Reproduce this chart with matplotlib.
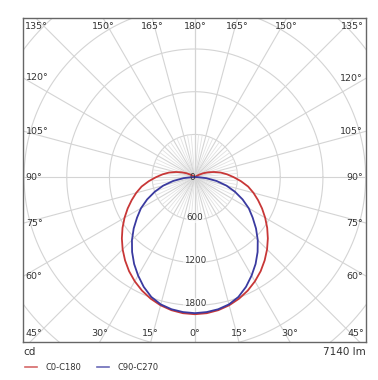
import numpy as np
import matplotlib
matplotlib.use("Agg")
import matplotlib.pyplot as plt

# ---- data ----
gamma = [0, 5, 10, 15, 20, 25, 30, 35, 40, 45, 50, 55, 60, 65, 70, 75, 80, 85, 90,
         95, 100, 105, 110, 115, 120, 125, 130, 135, 140, 145, 150, 155, 160, 165, 170, 175, 180]
c0_c180 = [1925, 1918, 1897, 1863, 1816, 1758, 1689, 1612, 1526, 1435, 1339, 1241, 1141, 1042,
           945, 853, 760, 650, 545, 455, 370, 280, 200, 130, 70, 30, 10, 0, 0, 0, 0, 0, 0, 0, 0, 0, 0]
c90_c270 = [1910, 1902, 1884, 1850, 1790, 1700, 1595, 1488, 1372, 1250, 1122, 992, 875, 740,
            600, 460, 310, 160, 40, 0, 0, 0, 0, 0, 0, 0, 0, 0, 0, 0, 0, 0, 0, 0, 0, 0, 0]
series_names = ["C0-C180", "C90-C270"]
series_colors = ["#c83737", "#3a3aa0"]
ring_values = [600, 1200, 1800, 2400, 3000, 3600]
ring_labels = ["600", "1200", "1800"]
unit_label = "cd"
flux_label = "7140 lm"

# ---- figure ----
fig = plt.figure(figsize=(3.78, 3.80), dpi=100)
ax = fig.add_axes([23 / 378, 1 - 342 / 380, 343 / 378, 324 / 380])
XL = (-2415, 2405)
YL = (-2315, 2235)
ax.set_xlim(*XL)
ax.set_ylim(*YL)
ax.set_xticks([])
ax.set_yticks([])
for s in ax.spines.values():
    s.set_color("#666666")
    s.set_linewidth(1.0)

grid_c = "#d4d4d4"
# circles
t = np.linspace(0, 2 * np.pi, 400)
for rv in ring_values:
    ax.plot(rv * np.cos(t), rv * np.sin(t), color=grid_c, lw=0.8, zorder=1)
# fine radial lines every 5 deg near centre
for g in range(0, 181, 5):
    if g % 15 == 0:
        continue
    gr = np.radians(g)
    for sgn in (-1, 1):
        ax.plot([0, sgn * 600 * np.sin(gr)], [0, -600 * np.cos(gr)], color="#e2e2e2", lw=0.6, zorder=1)
# main radial lines every 15 deg
R = 5000
for g in range(0, 181, 15):
    gr = np.radians(g)
    for sgn in (-1, 1):
        ax.plot([0, sgn * R * np.sin(gr)], [0, -R * np.cos(gr)], color=grid_c, lw=0.8, zorder=1)

# curves
for vals, col in zip([c0_c180, c90_c270], series_colors):
    g = np.radians(np.array(gamma, dtype=float))
    v = np.array(vals, dtype=float)
    xr = v * np.sin(g)
    yr = -v * np.cos(g)
    x = np.concatenate([-xr[::-1], xr[1:]])
    y = np.concatenate([yr[::-1], yr[1:]])
    ax.plot(x, y, color=col, lw=1.3, zorder=3)

# ring labels
tc = "#333333"
ax.text(-40, 0, "0", ha="center", va="center", fontsize=6.3, color=tc, zorder=4)
for rv, lab in zip(ring_values, ring_labels):
    ax.text(0, -rv + 30, lab, ha="center", va="center", fontsize=6.3, color=tc, zorder=4,
            bbox=dict(boxstyle="square,pad=0.05", fc="white", ec="none", alpha=0.6))

# angle labels on the frame
fs = 6.8
def edge_label(g, sgn):
    gr = np.radians(g)
    dx, dy = sgn * np.sin(gr), -np.cos(gr)
    ts = []
    if dx > 1e-9:
        ts.append((XL[1] / dx, "r"))
    if dx < -1e-9:
        ts.append((XL[0] / dx, "l"))
    if dy > 1e-9:
        ts.append((YL[1] / dy, "t"))
    if dy < -1e-9:
        ts.append((YL[0] / dy, "b"))
    tmin, side = min(ts)
    px, py = tmin * dx, tmin * dy
    lab = f"{g}\u00b0"
    if side in ("b", "t"):
        ha = "center"
        if px < XL[0] + 300:
            px, ha = XL[0] + 30, "left"
        elif px > XL[1] - 300:
            px, ha = XL[1] - 30, "right"
        if side == "b":
            ax.text(px, YL[0] + 60, lab, ha=ha, va="bottom", fontsize=fs, color=tc, zorder=5)
        else:
            ax.text(px, YL[1] - 60, lab, ha=ha, va="top", fontsize=fs, color=tc, zorder=5)
    else:
        if side == "l":
            ax.text(XL[0] + 40, py, lab, ha="left", va="center", fontsize=fs, color=tc, zorder=5)
        else:
            ax.text(XL[1] - 40, py, lab, ha="right", va="center", fontsize=fs, color=tc, zorder=5)

for g in range(0, 181, 15):
    edge_label(g, 1)
    if g not in (0, 180):
        edge_label(g, -1)

# footer
fig.text(23 / 378, 1 - 352 / 380, unit_label, ha="left", va="center", fontsize=7.5, color=tc)
fig.text(366 / 378, 1 - 352 / 380, flux_label, ha="right", va="center", fontsize=7.5, color=tc)
ly = 1 - 367 / 380
for i, (name, col) in enumerate(zip(series_names, series_colors)):
    x0 = (25 + i * 72) / 378
    fig.add_artist(plt.Line2D([x0, x0 + 12 / 378], [ly, ly], color=col, lw=1.2, alpha=0.75))
    fig.text(x0 + 20 / 378, ly, name, ha="left", va="center", fontsize=6, color=tc)

fig.savefig("out.png", dpi=100)
